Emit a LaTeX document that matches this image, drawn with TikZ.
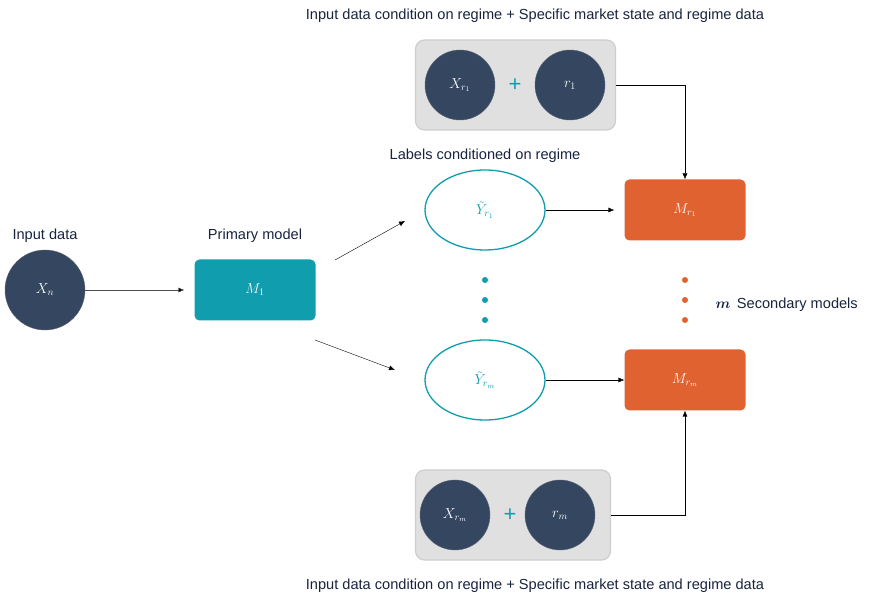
\documentclass[tikz,border=0pt]{standalone}
\usepackage{amsmath}
\usepackage{bm}
\usepackage{fontspec}
\setmainfont{Liberation Sans}
\usetikzlibrary{shapes.geometric,arrows.meta}
\definecolor{navy}{RGB}{24,36,62}
\definecolor{slate}{RGB}{52,70,96}
\definecolor{teal}{RGB}{16,157,174}
\definecolor{rust}{RGB}{224,98,48}
\definecolor{boxgrey}{RGB}{224,224,224}
\definecolor{boxline}{RGB}{206,206,206}

\begin{document}
\begin{tikzpicture}[x=1pt,y=-1pt,>={Latex[length=6pt,width=5pt]},
        datum/.style={shape=circle,fill=slate,draw=navy!70,minimum size=70pt,inner sep=0pt,text=white,font=\fontsize{14}{16}\selectfont},
        model/.style={shape=rectangle,rounded corners=5pt,minimum width=121pt,minimum height=61pt,text=white,font=\fontsize{14}{16}\selectfont},
        target/.style={shape=ellipse,draw=teal,line width=1.3pt,fill=white,minimum width=120pt,minimum height=80pt,text=teal,font=\fontsize{14}{16}\selectfont},
        caption/.style={text=navy,font=\fontsize{14.6}{17}\selectfont},
        dot/.style={shape=circle,inner sep=0pt,minimum size=6pt}]
        \useasboundingbox (0,0) rectangle (876,601);

        %input and primary model
        \node[datum,minimum size=80pt] (xn) at (45,290) {$X_n$};
        \node[caption] (lin) at (45,236) {Input data};
        \node[model,fill=teal] (m1) at (255,290) {$M_1$};
        \node[caption] (lprim) at (255,236) {Primary model};

        %regime labels
        \node[caption] (llab) at (485,156) {Labels conditioned on regime};
        \node[target] (y1) at (485,210) {$\tilde{Y}_{r_1}$};
        \node[target] (ym) at (485,380) {$\tilde{Y}_{r_m}$};
        \node[dot,fill=teal] (t1) at (485,280) {};
        \node[dot,fill=teal] (t2) at (485,300) {};
        \node[dot,fill=teal] (t3) at (485,320) {};

        %secondary models
        \node[model,fill=rust] (mr1) at (685,210) {$M_{r_1}$};
        \node[model,fill=rust] (mrm) at (685,380) {$M_{r_m}$};
        \node[dot,fill=rust] (o1) at (685,280) {};
        \node[dot,fill=rust] (o2) at (685,300) {};
        \node[dot,fill=rust] (o3) at (685,320) {};
        \node[caption,anchor=west] (lsec) at (712,305) {$\bm{m}$\, Secondary models};

        %top group
        \node[caption] (ltop) at (535,16) {Input data condition on regime + Specific market state and regime data};
        \node[shape=rectangle,rounded corners=9pt,fill=boxgrey,draw=boxline,line width=1.2pt,minimum width=200pt,minimum height=90pt] (gtop) at (515.5,85) {};
        \node[datum] (x1) at (460,85) {$X_{r_1}$};
        \node[datum] (r1) at (570,85) {$r_1$};
        \node[text=teal,font=\fontsize{22}{24}\selectfont] (p1) at (515,85) {+};

        %bottom group
        \node[caption] (lbot) at (535,586) {Input data condition on regime + Specific market state and regime data};
        \node[shape=rectangle,rounded corners=9pt,fill=boxgrey,draw=boxline,line width=1.2pt,minimum width=195pt,minimum height=90pt] (gbot) at (513,515) {};
        \node[datum] (xm) at (455,515) {$X_{r_m}$};
        \node[datum] (rm) at (560,515) {$r_m$};
        \node[text=teal,font=\fontsize{22}{24}\selectfont] (p2) at (510,515) {+};

        %connectors
        \coordinate (a1) at (335,260);
        \coordinate (a2) at (405,221);
        \coordinate (b1) at (315,340);
        \coordinate (b2) at (395,370);
        \path[->, draw=black!70] (xn) edge ([xshift=-10pt]m1.west);
        \path[->] (a1) edge (a2);
        \path[->] (b1) edge (b2);
        \path[->] (y1) edge ([xshift=-10pt]mr1.west);
        \path[->] (ym) edge (mrm);
        \draw[->] (gtop.east) -| (mr1.north);
        \draw[->] (gbot.east) -| (mrm.south);

\end{tikzpicture}
\end{document}
